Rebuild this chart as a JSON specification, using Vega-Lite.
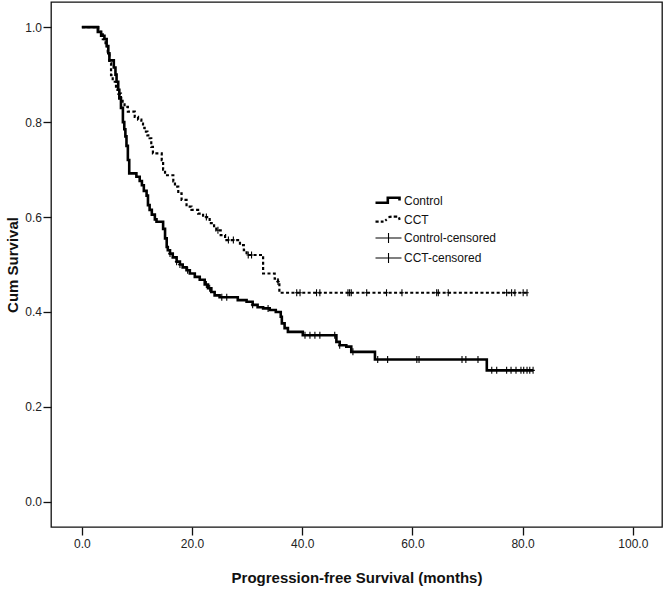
{
  "$schema": "https://vega.github.io/schema/vega-lite/v6.json",
  "autosize": "none",
  "width": 611,
  "height": 525,
  "padding": {"left": 51, "top": 2, "right": 4, "bottom": 62},
  "background": "white",
  "config": {
    "font": "Liberation Sans",
    "view": {"stroke": "#111", "strokeWidth": 1.3},
    "axis": {"grid": false, "domain": false, "tickColor": "#111", "tickWidth": 1.3, "tickSize": 8,
      "labelFont": "Liberation Sans", "labelFontSize": 12, "labelColor": "#222",
      "titleFont": "Liberation Sans", "titleFontSize": 15, "titleFontWeight": "bold", "titleColor": "#111"}
  },
  "data": {"values": [
    {"g":"Control","t":0,"s":1},{"g":"Control","t":2.9,"s":0.99},{"g":"Control","t":3.5,"s":0.982},{"g":"Control","t":4.1,"s":0.975},{"g":"Control","t":4.5,"s":0.96},{"g":"Control","t":4.8,"s":0.945},{"g":"Control","t":5.0,"s":0.93},{"g":"Control","t":5.8,"s":0.915},{"g":"Control","t":6.1,"s":0.9},{"g":"Control","t":6.3,"s":0.885},{"g":"Control","t":6.6,"s":0.868},{"g":"Control","t":6.8,"s":0.85},{"g":"Control","t":7.1,"s":0.83},{"g":"Control","t":7.45,"s":0.8},{"g":"Control","t":7.7,"s":0.785},{"g":"Control","t":7.9,"s":0.77},{"g":"Control","t":8.1,"s":0.75},{"g":"Control","t":8.35,"s":0.72},{"g":"Control","t":8.6,"s":0.692},{"g":"Control","t":9.9,"s":0.685},{"g":"Control","t":10.5,"s":0.676},{"g":"Control","t":10.9,"s":0.667},{"g":"Control","t":11.25,"s":0.655},{"g":"Control","t":11.75,"s":0.645},{"g":"Control","t":12.0,"s":0.625},{"g":"Control","t":12.3,"s":0.615},{"g":"Control","t":12.7,"s":0.605},{"g":"Control","t":13.25,"s":0.595},{"g":"Control","t":13.55,"s":0.59},{"g":"Control","t":14.75,"s":0.575},{"g":"Control","t":15.1,"s":0.555},{"g":"Control","t":15.4,"s":0.537},{"g":"Control","t":15.6,"s":0.53},{"g":"Control","t":16.0,"s":0.523},{"g":"Control","t":16.5,"s":0.515},{"g":"Control","t":17.2,"s":0.506},{"g":"Control","t":17.8,"s":0.5},{"g":"Control","t":18.3,"s":0.494},{"g":"Control","t":19.0,"s":0.488},{"g":"Control","t":19.6,"s":0.481},{"g":"Control","t":20.5,"s":0.474},{"g":"Control","t":21.4,"s":0.468},{"g":"Control","t":22.3,"s":0.458},{"g":"Control","t":22.9,"s":0.45},{"g":"Control","t":23.5,"s":0.442},{"g":"Control","t":24.1,"s":0.435},{"g":"Control","t":25.0,"s":0.431},{"g":"Control","t":28.3,"s":0.425},{"g":"Control","t":29.9,"s":0.4215},{"g":"Control","t":31.0,"s":0.415},{"g":"Control","t":31.9,"s":0.41},{"g":"Control","t":32.9,"s":0.4075},{"g":"Control","t":34.1,"s":0.404},{"g":"Control","t":35.2,"s":0.4},{"g":"Control","t":36.1,"s":0.39},{"g":"Control","t":36.3,"s":0.376},{"g":"Control","t":36.8,"s":0.366},{"g":"Control","t":37.4,"s":0.358},{"g":"Control","t":40.1,"s":0.351},{"g":"Control","t":46.2,"s":0.337},{"g":"Control","t":46.8,"s":0.33},{"g":"Control","t":48.0,"s":0.327},{"g":"Control","t":48.9,"s":0.316},{"g":"Control","t":53.2,"s":0.3},{"g":"Control","t":73.5,"s":0.277},{"g":"Control","t":81.9,"s":0.277},
    {"g":"CCT","t":0,"s":1},{"g":"CCT","t":3.0,"s":0.99},{"g":"CCT","t":3.8,"s":0.975},{"g":"CCT","t":4.3,"s":0.96},{"g":"CCT","t":4.7,"s":0.945},{"g":"CCT","t":5.0,"s":0.924},{"g":"CCT","t":5.3,"s":0.899},{"g":"CCT","t":5.6,"s":0.885},{"g":"CCT","t":6.2,"s":0.868},{"g":"CCT","t":6.6,"s":0.86},{"g":"CCT","t":7.1,"s":0.85},{"g":"CCT","t":7.4,"s":0.84},{"g":"CCT","t":7.75,"s":0.832},{"g":"CCT","t":8.35,"s":0.822},{"g":"CCT","t":9.6,"s":0.811},{"g":"CCT","t":10.2,"s":0.805},{"g":"CCT","t":10.8,"s":0.797},{"g":"CCT","t":11.1,"s":0.788},{"g":"CCT","t":11.4,"s":0.78},{"g":"CCT","t":11.9,"s":0.772},{"g":"CCT","t":12.3,"s":0.766},{"g":"CCT","t":12.6,"s":0.748},{"g":"CCT","t":12.9,"s":0.734},{"g":"CCT","t":14.5,"s":0.72},{"g":"CCT","t":14.75,"s":0.7},{"g":"CCT","t":15.1,"s":0.688},{"g":"CCT","t":16.6,"s":0.675},{"g":"CCT","t":16.9,"s":0.664},{"g":"CCT","t":17.5,"s":0.65},{"g":"CCT","t":18.1,"s":0.636},{"g":"CCT","t":19.0,"s":0.622},{"g":"CCT","t":19.9,"s":0.615},{"g":"CCT","t":21.1,"s":0.607},{"g":"CCT","t":22.0,"s":0.6},{"g":"CCT","t":23.2,"s":0.587},{"g":"CCT","t":24.0,"s":0.578},{"g":"CCT","t":24.4,"s":0.572},{"g":"CCT","t":25.2,"s":0.562},{"g":"CCT","t":26.0,"s":0.5515},{"g":"CCT","t":28.7,"s":0.541},{"g":"CCT","t":29.4,"s":0.53},{"g":"CCT","t":29.9,"s":0.52},{"g":"CCT","t":32.9,"s":0.481},{"g":"CCT","t":35.0,"s":0.47},{"g":"CCT","t":35.6,"s":0.464},{"g":"CCT","t":35.85,"s":0.4405},{"g":"CCT","t":80.8,"s":0.4405},
    {"g":"Control-censored","t":16.0,"s":0.523},{"g":"Control-censored","t":17.2,"s":0.506},{"g":"Control-censored","t":17.8,"s":0.5},{"g":"Control-censored","t":19.2,"s":0.488},{"g":"Control-censored","t":22.6,"s":0.458},{"g":"Control-censored","t":23.2,"s":0.45},{"g":"Control-censored","t":25.4,"s":0.431},{"g":"Control-censored","t":26.3,"s":0.431},{"g":"Control-censored","t":31.0,"s":0.415},{"g":"Control-censored","t":33.8,"s":0.4075},{"g":"Control-censored","t":40.5,"s":0.351},{"g":"Control-censored","t":41.4,"s":0.351},{"g":"Control-censored","t":42.3,"s":0.351},{"g":"Control-censored","t":43.2,"s":0.351},{"g":"Control-censored","t":45.9,"s":0.351},{"g":"Control-censored","t":46.8,"s":0.33},{"g":"Control-censored","t":49.2,"s":0.316},{"g":"Control-censored","t":53.7,"s":0.3},{"g":"Control-censored","t":55.5,"s":0.3},{"g":"Control-censored","t":60.8,"s":0.3},{"g":"Control-censored","t":61.2,"s":0.3},{"g":"Control-censored","t":69.0,"s":0.3},{"g":"Control-censored","t":69.7,"s":0.3},{"g":"Control-censored","t":71.9,"s":0.3},{"g":"Control-censored","t":74.4,"s":0.277},{"g":"Control-censored","t":75.3,"s":0.277},{"g":"Control-censored","t":77.1,"s":0.277},{"g":"Control-censored","t":77.9,"s":0.277},{"g":"Control-censored","t":78.8,"s":0.277},{"g":"Control-censored","t":79.7,"s":0.277},{"g":"Control-censored","t":80.2,"s":0.277},{"g":"Control-censored","t":80.8,"s":0.277},{"g":"Control-censored","t":81.3,"s":0.277},{"g":"Control-censored","t":81.9,"s":0.277},
    {"g":"CCT-censored","t":22.6,"s":0.6},{"g":"CCT-censored","t":24.7,"s":0.572},{"g":"CCT-censored","t":26.6,"s":0.5515},{"g":"CCT-censored","t":27.5,"s":0.5515},{"g":"CCT-censored","t":30.2,"s":0.52},{"g":"CCT-censored","t":30.8,"s":0.52},{"g":"CCT-censored","t":35.6,"s":0.464},{"g":"CCT-censored","t":39.0,"s":0.4405},{"g":"CCT-censored","t":39.6,"s":0.4405},{"g":"CCT-censored","t":42.6,"s":0.4405},{"g":"CCT-censored","t":43.2,"s":0.4405},{"g":"CCT-censored","t":48.3,"s":0.4405},{"g":"CCT-censored","t":48.6,"s":0.4405},{"g":"CCT-censored","t":48.9,"s":0.4405},{"g":"CCT-censored","t":51.7,"s":0.4405},{"g":"CCT-censored","t":55.3,"s":0.4405},{"g":"CCT-censored","t":58.1,"s":0.4405},{"g":"CCT-censored","t":64.4,"s":0.4405},{"g":"CCT-censored","t":64.7,"s":0.4405},{"g":"CCT-censored","t":66.5,"s":0.4405},{"g":"CCT-censored","t":77.1,"s":0.4405},{"g":"CCT-censored","t":78.0,"s":0.4405},{"g":"CCT-censored","t":78.6,"s":0.4405},{"g":"CCT-censored","t":80.1,"s":0.4405},{"g":"CCT-censored","t":80.8,"s":0.4405}
  ]},
  "encoding": {
    "x": {"field": "t", "type": "quantitative",
      "scale": {"domain": [-5.6, 105.3], "nice": false, "zero": false},
      "axis": {"values": [0, 20, 40, 60, 80, 100], "format": ".1f", "labelPadding": 3,
        "title": "Progression-free Survival (months)", "titleY": 50, "titleBaseline": "middle"}},
    "y": {"field": "s", "type": "quantitative",
      "scale": {"domain": [-0.053, 1.053], "nice": false, "zero": false},
      "axis": {"values": [0, 0.2, 0.4, 0.6, 0.8, 1], "format": ".1f", "labelPadding": 1.5,
        "title": "Cum Survival", "titleX": -39, "titleBaseline": "middle"}}
  },
  "layer": [
    {
      "transform": [{"filter": "datum.g === 'Control'"}],
      "mark": {"type": "line", "interpolate": "step-after", "color": "#000", "strokeWidth": 2.6}
    },
    {
      "transform": [{"filter": "datum.g === 'CCT'"}],
      "mark": {"type": "line", "interpolate": "step-after", "color": "#000", "strokeWidth": 2.2, "strokeDash": [3, 2.4]}
    },
    {
      "transform": [{"filter": "datum.g === 'Control-censored' || datum.g === 'CCT-censored'"}],
      "mark": {"type": "point", "filled": false, "color": "#000", "opacity": 1, "size": 49, "shape": "M-0.5,0L0.5,0M0,-1L0,1"},
      "encoding": {
        "strokeWidth": {"field": "g", "type": "nominal",
          "scale": {"type": "ordinal", "domain": ["Control", "CCT", "Control-censored", "CCT-censored"], "range": [2.6, 2.2, 1.1, 1.1]},
          "legend": {
            "title": null, "orient": "none", "legendX": 323, "legendY": 191,
            "symbolSize": 144, "labelOffset": 15, "rowPadding": 4,
            "labelFont": "Liberation Sans", "labelFontSize": 12, "labelColor": "#111",
            "encoding": {
              "symbols": {
                "shape": {"value": {"expr": "datum.value === 'Control' ? 'M-1,0.38L1.05,0.38L1.05,-0.45L3,-0.45L3,0' : datum.value === 'CCT' ? 'M-1,0.35L-0.475,0.35M-0.125,0.35L0.34,0.35M0.63,0.175L0.87,0M1.16,-0.41L1.68,-0.47M2.03,-0.47L2.62,-0.47M2.91,-0.35L3.03,0.06' : 'M-1,0L3.33,0M1.17,-0.83L1.17,0.83'"}},
                "size": {"value": 144},
                "stroke": {"value": "#000"},
                "fill": {"value": "transparent"},
                "opacity": {"value": 1}
              }
            }
          }
        }
      }
    }
  ]
}
